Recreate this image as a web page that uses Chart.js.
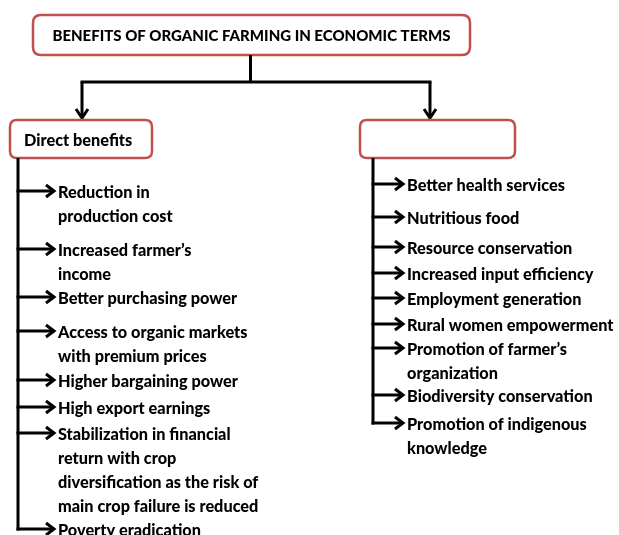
<!DOCTYPE html>
<html>
<head>
<meta charset="utf-8">
<script src="https://cdn.jsdelivr.net/npm/chart.js@4.4.1/dist/chart.umd.min.js"></script>
<style>
  html, body { margin: 0; padding: 0; background: #fff; overflow: hidden; }
  #wrap { width: 619px; height: 535px; }
</style>
</head>
<body>
<div id="wrap"><canvas id="organicChart"></canvas></div>
<script>
// ---- diagram content ----
const titleText = 'BENEFITS OF ORGANIC FARMING IN ECONOMIC TERMS';
const branchLabels = ['Direct benefits', ''];

const directItems = [
    ['Reduction in', 'production cost'],
    ['Increased farmer\u2019s', 'income'],
    ['Better purchasing power'],
    ['Access to organic markets', 'with premium prices'],
    ['Higher bargaining power'],
    ['High export earnings'],
    ['Stabilization in financial', 'return with crop', 'diversification as the risk of', 'main crop failure is reduced'],
    ['Poverty eradication']
];
const directRows = [191, 249, 297, 331, 380, 407, 433, 529];

const indirectItems = [
    ['Better health services'],
    ['Nutritious food'],
    ['Resource conservation'],
    ['Increased input efficiency'],
    ['Employment generation'],
    ['Rural women empowerment'],
    ['Promotion of farmer\u2019s', 'organization'],
    ['Biodiversity conservation'],
    ['Promotion of indigenous', 'knowledge']
];
const indirectRows = [184, 217, 247, 273, 298, 324, 348, 395, 423];

// ---- layout (diagram units = pixels of the 619x535 picture) ----
const layout = {
    title: { x0: 33, x1: 470, y0: 15, y1: 55 },
    branchY: 82,
    arrowTipY: 118,
    boxes: [
        { x0: 10, x1: 152, y0: 120, y1: 158, arrowX: 82, spineX: 18, textX: 58 },
        { x0: 360, x1: 515, y0: 120, y1: 158, arrowX: 430, spineX: 373, textX: 407 }
    ],
    lineGap: 24,
    textNudge: 1.5
};

const RED = '#c0504d';
const INK = '#000';
const FONT = 'Lato, "Liberation Sans", sans-serif';
const TITLE_FONT = '900 15px ' + FONT;
const ITEM_FONT = '900 16.3px ' + FONT;

function roundRect(ctx, x0, y0, x1, y1, r) {
    ctx.beginPath();
    ctx.moveTo(x0 + r, y0);
    ctx.lineTo(x1 - r, y0);
    ctx.quadraticCurveTo(x1, y0, x1, y0 + r);
    ctx.lineTo(x1, y1 - r);
    ctx.quadraticCurveTo(x1, y1, x1 - r, y1);
    ctx.lineTo(x0 + r, y1);
    ctx.quadraticCurveTo(x0, y1, x0, y1 - r);
    ctx.lineTo(x0, y0 + r);
    ctx.quadraticCurveTo(x0, y0, x0 + r, y0);
    ctx.closePath();
}

function line(ctx, xa, ya, xb, yb, w) {
    ctx.lineWidth = w;
    ctx.beginPath();
    ctx.moveTo(xa, ya);
    ctx.lineTo(xb, yb);
    ctx.stroke();
}

// open chevron arrow head, dir: 'right' or 'down'
function head(ctx, x, y, dir) {
    ctx.lineWidth = 3;
    ctx.beginPath();
    if (dir === 'right') {
        ctx.moveTo(x - 8, y - 6);
        ctx.lineTo(x, y);
        ctx.lineTo(x - 8, y + 6);
    } else {
        ctx.moveTo(x - 6, y - 9);
        ctx.lineTo(x, y);
        ctx.lineTo(x + 6, y - 9);
    }
    ctx.stroke();
}

const diagramPlugin = {
    id: 'diagram',
    afterDraw(chart) {
        const ctx = chart.ctx;
        const sx = v => chart.scales.x.getPixelForValue(v);
        const sy = v => chart.scales.y.getPixelForValue(v);
        const nudge = layout.textNudge;
        ctx.save();
        ctx.strokeStyle = INK;
        ctx.fillStyle = INK;
        ctx.lineCap = 'butt';
        ctx.lineJoin = 'miter';

        // title box
        const t = layout.title;
        ctx.fillStyle = '#fff';
        roundRect(ctx, sx(t.x0), sy(t.y0), sx(t.x1), sy(t.y1), 8);
        ctx.fill();
        ctx.strokeStyle = RED;
        ctx.lineWidth = 2.5;
        ctx.stroke();
        ctx.fillStyle = INK;
        ctx.font = TITLE_FONT;
        ctx.textAlign = 'center';
        ctx.textBaseline = 'middle';
        ctx.fillText(titleText, sx((t.x0 + t.x1) / 2), sy((t.y0 + t.y1) / 2) + nudge);

        // connectors
        ctx.strokeStyle = INK;
        const midX = (t.x0 + t.x1) / 2 - 1;
        line(ctx, sx(midX), sy(t.y1), sx(midX), sy(layout.branchY), 3);
        const bx = layout.boxes.map(b => b.arrowX);
        line(ctx, sx(bx[0]) - 1.5, sy(layout.branchY), sx(bx[1]) + 1.5, sy(layout.branchY), 3);
        bx.forEach(x => {
            line(ctx, sx(x), sy(layout.branchY), sx(x), sy(layout.arrowTipY) - 1, 3);
            head(ctx, sx(x), sy(layout.arrowTipY), 'down');
        });

        // branch boxes + lists
        const lists = [[directItems, directRows], [indirectItems, indirectRows]];
        layout.boxes.forEach((b, i) => {
            ctx.fillStyle = '#fff';
            roundRect(ctx, sx(b.x0), sy(b.y0), sx(b.x1), sy(b.y1), 7);
            ctx.fill();
            ctx.strokeStyle = RED;
            ctx.lineWidth = 2.5;
            ctx.stroke();
            ctx.fillStyle = INK;
            ctx.font = ITEM_FONT;
            ctx.textAlign = 'left';
            ctx.textBaseline = 'middle';
            ctx.fillText(branchLabels[i], sx(b.x0 + 14), sy((b.y0 + b.y1) / 2) + nudge);

            const [items, rows] = lists[i];
            ctx.strokeStyle = INK;
            line(ctx, sx(b.spineX), sy(b.y1), sx(b.spineX), sy(rows[rows.length - 1]) + 1.5, 3);
            items.forEach((lines, k) => {
                const y = sy(rows[k]);
                line(ctx, sx(b.spineX) - 1.5, y, sx(b.textX - 4), y, 3);
                head(ctx, sx(b.textX - 4), y, 'right');
                lines.forEach((txt, j) => {
                    ctx.fillText(txt, sx(b.textX), y + j * layout.lineGap + nudge);
                });
            });
        });
        ctx.restore();
    }
};

new Chart(document.getElementById('organicChart'), {
    type: 'scatter',
    data: { datasets: [{ data: [], pointRadius: 0 }] },
    options: {
        responsive: true,
        maintainAspectRatio: false,
        animation: false,
        layout: { padding: 0 },
        plugins: { legend: { display: false }, tooltip: { enabled: false } },
        scales: {
            x: { type: 'linear', min: 0, max: 619, display: false },
            y: { type: 'linear', min: 0, max: 535, reverse: true, display: false }
        }
    },
    plugins: [diagramPlugin]
});
</script>
</body>
</html>
